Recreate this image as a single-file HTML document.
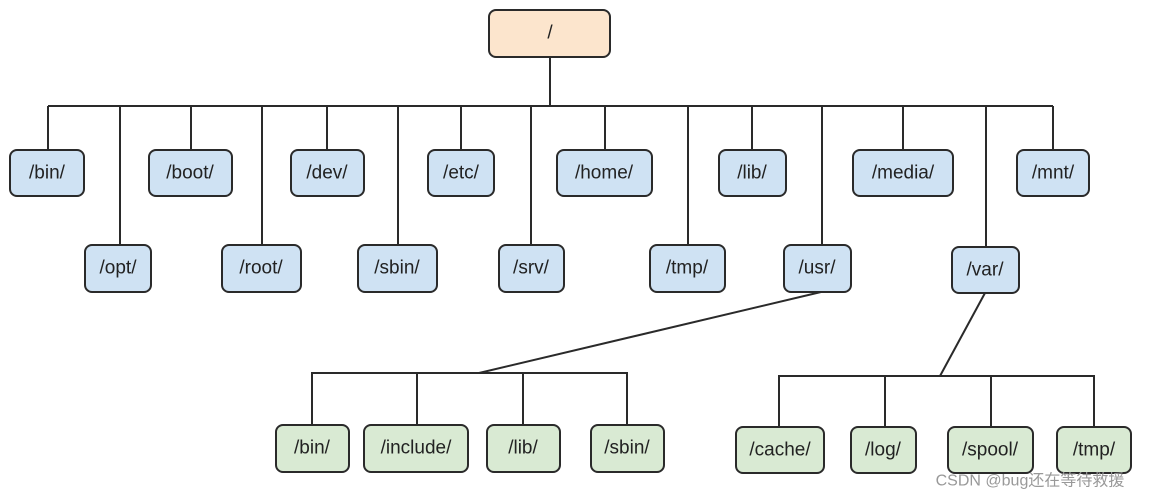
<!DOCTYPE html>
<html><head><meta charset="utf-8"><style>
body{margin:0;background:#fff;width:1153px;height:500px;overflow:hidden}
svg{display:block}
text{font-family:"Liberation Sans",sans-serif;font-size:19px;fill:#222;text-anchor:middle;dominant-baseline:central}
.b rect{fill:#cfe2f3}
.g rect{fill:#d9ead3}
rect{stroke:#2a2a2a;stroke-width:2}
line,polyline{stroke:#2a2a2a;stroke-width:2;fill:none}
</style></head><body>
<svg width="1153" height="500" viewBox="0 0 1153 500">
<line x1="550" y1="57" x2="550" y2="106"/>
<line x1="48" y1="106" x2="1053" y2="106"/>
<g>
<line x1="48" y1="106" x2="48" y2="150"/><line x1="191" y1="106" x2="191" y2="150"/>
<line x1="327" y1="106" x2="327" y2="150"/><line x1="461" y1="106" x2="461" y2="150"/>
<line x1="605" y1="106" x2="605" y2="150"/><line x1="752" y1="106" x2="752" y2="150"/>
<line x1="903" y1="106" x2="903" y2="150"/><line x1="1053" y1="106" x2="1053" y2="150"/>
<line x1="120" y1="106" x2="120" y2="245"/><line x1="262" y1="106" x2="262" y2="245"/>
<line x1="398" y1="106" x2="398" y2="245"/><line x1="531" y1="106" x2="531" y2="245"/>
<line x1="688" y1="106" x2="688" y2="245"/><line x1="822" y1="106" x2="822" y2="245"/>
<line x1="986" y1="106" x2="986" y2="247"/>
</g>
<line x1="821" y1="292" x2="479" y2="373"/>
<polyline points="312,425 312,373 627,373 627,425"/>
<line x1="417" y1="373" x2="417" y2="425"/><line x1="523" y1="373" x2="523" y2="425"/>
<line x1="985" y1="293" x2="940" y2="376"/>
<polyline points="779,427 779,376 1094,376 1094,427"/>
<line x1="885" y1="376" x2="885" y2="427"/><line x1="991" y1="376" x2="991" y2="427"/>

<rect x="489" y="10" width="121" height="47" rx="7" fill="#fce5cd"/><text x="550" y="33">/</text>

<g class="b">
<rect x="10" y="150" width="74" height="46" rx="7"/><text x="47" y="173">/bin/</text>
<rect x="149" y="150" width="83" height="46" rx="7"/><text x="190" y="173">/boot/</text>
<rect x="291" y="150" width="73" height="46" rx="7"/><text x="327" y="173">/dev/</text>
<rect x="428" y="150" width="66" height="46" rx="7"/><text x="461" y="173">/etc/</text>
<rect x="557" y="150" width="95" height="46" rx="7"/><text x="604" y="173">/home/</text>
<rect x="719" y="150" width="67" height="46" rx="7"/><text x="752" y="173">/lib/</text>
<rect x="853" y="150" width="100" height="46" rx="7"/><text x="903" y="173">/media/</text>
<rect x="1017" y="150" width="72" height="46" rx="7"/><text x="1053" y="173">/mnt/</text>
<rect x="85" y="245" width="66" height="47" rx="7"/><text x="118" y="268">/opt/</text>
<rect x="222" y="245" width="79" height="47" rx="7"/><text x="261" y="268">/root/</text>
<rect x="358" y="245" width="79" height="47" rx="7"/><text x="397" y="268">/sbin/</text>
<rect x="499" y="245" width="65" height="47" rx="7"/><text x="531" y="268">/srv/</text>
<rect x="650" y="245" width="75" height="47" rx="7"/><text x="687" y="268">/tmp/</text>
<rect x="784" y="245" width="67" height="47" rx="7"/><text x="817" y="268">/usr/</text>
<rect x="952" y="247" width="67" height="46" rx="7"/><text x="985" y="270">/var/</text>
</g>
<g class="g">
<rect x="276" y="425" width="73" height="47" rx="7"/><text x="312" y="448">/bin/</text>
<rect x="364" y="425" width="104" height="47" rx="7"/><text x="416" y="448">/include/</text>
<rect x="487" y="425" width="73" height="47" rx="7"/><text x="523" y="448">/lib/</text>
<rect x="591" y="425" width="73" height="47" rx="7"/><text x="627" y="448">/sbin/</text>
<rect x="736" y="427" width="88" height="46" rx="7"/><text x="780" y="450">/cache/</text>
<rect x="851" y="427" width="65" height="46" rx="7"/><text x="883" y="450">/log/</text>
<rect x="948" y="427" width="85" height="46" rx="7"/><text x="990" y="450">/spool/</text>
<rect x="1057" y="427" width="74" height="46" rx="7"/><text x="1094" y="450">/tmp/</text>
</g>
<text x="1030" y="481" style="font-family:'Liberation Sans','Noto Sans CJK SC',sans-serif;font-size:16px;fill:#999">CSDN @bug还在等待救援</text>
</svg>
</body></html>
